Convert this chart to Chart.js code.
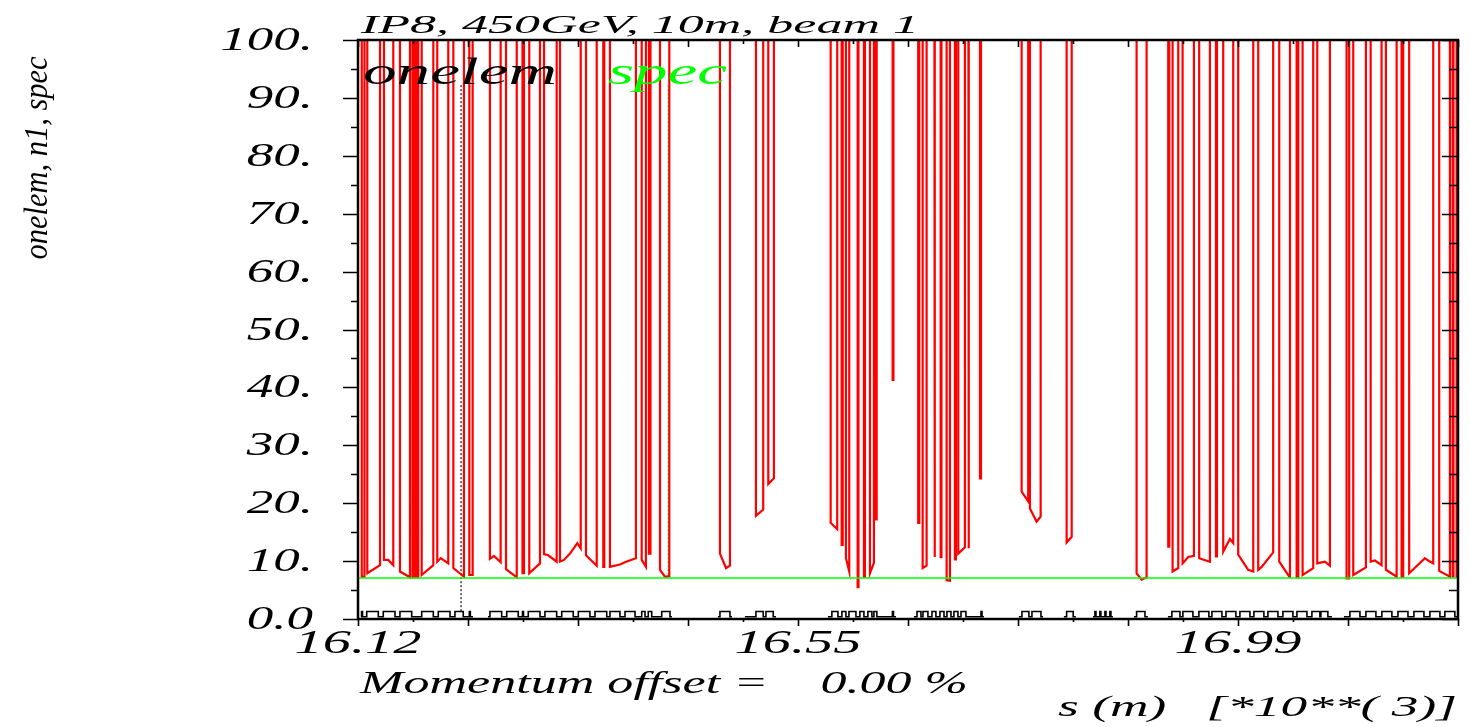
<!DOCTYPE html>
<html>
<head>
<meta charset="utf-8">
<title>IP8, 450GeV, 10m, beam 1</title>
<script src="https://cdn.jsdelivr.net/npm/chart.js@4.4.1/dist/chart.umd.min.js"></script>
<style>
  html, body { margin: 0; padding: 0; background: #fff; }
  #wrap { width: 1471px; height: 727px; }
</style>
</head>
<body>
<div id="wrap"><canvas id="apertureChart" width="1471" height="727"></canvas></div>
<script>
// aperture value used where onelem is far above the plotted range
const OFF = 150;

// s in metres, onelem (n1) values, one row per aperture dip
const sPos = [
    16121.7, 16121.7, 16124.4, 16124.4,
    16127.2, 16127.2, 16139.8, 16139.8,
    16143.7, 16143.7, 16148.0, 16152.9, 16152.9,
    16159.5, 16159.5, 16169.4, 16169.4,
    16171.9, 16171.9, 16173.4, 16173.4,
    16175.4, 16175.4, 16177.6, 16177.6,
    16181.0, 16181.0, 16192.5, 16192.5,
    16196.4, 16196.4, 16199.8, 16207.3, 16207.3,
    16212.3, 16212.3, 16222.8, 16222.8,
    16228.1, 16228.1, 16231.4, 16231.4,
    16248.5, 16248.5, 16252.5, 16259.1, 16259.1,
    16264.4, 16264.4, 16275.0, 16275.0,
    16280.7, 16280.7, 16282.2, 16282.2,
    16287.4, 16287.4, 16298.0, 16298.0,
    16302.0, 16302.0, 16306.2, 16314.5, 16314.5,
    16317.8, 16317.8, 16321.7, 16327.7, 16334.9, 16338.3, 16338.3,
    16343.5, 16343.5, 16354.1, 16354.1,
    16360.6, 16360.6, 16361.6, 16361.6,
    16367.2, 16367.2, 16377.1, 16383.1, 16392.9, 16392.9,
    16398.6, 16398.6, 16402.8, 16402.8,
    16405.8, 16405.8, 16407.3, 16407.3,
    16416.7, 16416.7, 16421.6, 16425.9, 16425.9,
    16476.0, 16476.0, 16482.0, 16485.9, 16485.9,
    16511.6, 16511.6, 16518.8, 16518.8,
    16523.8, 16523.8, 16529.4, 16529.4,
    16585.5, 16585.5, 16592.0, 16592.0,
    16596.4, 16596.4, 16597.4, 16597.4,
    16600.6, 16600.6, 16603.9, 16603.9,
    16612.2, 16612.2, 16613.0, 16613.0,
    16618.4, 16618.4, 16619.4, 16619.4,
    16624.4, 16624.4, 16628.3, 16628.3,
    16629.8, 16629.8, 16631.0, 16631.0,
    16646.8, 16646.8, 16647.6, 16647.6,
    16672.1, 16672.1, 16673.1, 16673.1,
    16676.5, 16676.5, 16680.4, 16680.4,
    16688.0, 16688.0, 16688.7, 16688.7,
    16694.3, 16694.3, 16695.1, 16695.1,
    16700.2, 16700.2, 16703.5, 16703.5,
    16708.4, 16708.4, 16709.4, 16709.4,
    16711.7, 16711.7, 16718.3, 16718.3,
    16721.6, 16721.6, 16722.3, 16722.3,
    16733.2, 16733.2, 16734.2, 16734.2,
    16774.4, 16774.4, 16780.9, 16780.9,
    16782.6, 16782.6, 16789.2, 16793.2, 16793.2,
    16818.9, 16818.9, 16823.9, 16823.9,
    16888.1, 16888.1, 16893.1, 16898.0, 16898.0,
    16919.4, 16919.4, 16920.4, 16920.4,
    16923.7, 16923.7, 16929.3, 16929.3,
    16933.6, 16933.6, 16939.2, 16944.8, 16944.8,
    16950.0, 16950.0, 16960.6, 16960.6,
    16966.6, 16966.6, 16967.6, 16967.6,
    16973.8, 16973.8, 16980.4, 16983.7, 16983.7,
    16988.6, 16988.6, 16998.5, 17003.5, 17003.5,
    17008.4, 17008.4, 17011.8, 17023.2, 17023.2,
    17029.2, 17029.2, 17039.1, 17039.8, 17039.8,
    17046.4, 17046.4, 17048.0, 17048.0,
    17052.3, 17052.3, 17062.8, 17062.8,
    17066.8, 17066.8, 17074.4, 17079.3, 17079.3,
    17095.8, 17095.8, 17098.4, 17098.4,
    17102.4, 17102.4, 17114.9, 17114.9,
    17119.6, 17119.6, 17123.8, 17130.4, 17130.4,
    17134.7, 17134.7, 17145.3, 17145.3,
    17150.2, 17150.2, 17151.8, 17151.8,
    17157.7, 17157.7, 17173.3, 17176.5, 17181.5, 17181.5,
    17187.4, 17187.4, 17198.0, 17198.0,
    17200.7, 17200.7, 17201.5, 17201.5,
    17204.6, 17204.6, 17207.9
];
const onelem = [
    OFF, 7.3, 7.3, OFF,
    OFF, 7.9, 9.3, OFF,
    OFF, 10.2, 10.2, 9.3, OFF,
    OFF, 8.2, 7.2, OFF,
    OFF, 7.2, 7.2, OFF,
    OFF, 7.2, 7.2, OFF,
    OFF, 7.6, 9.3, OFF,
    OFF, 9.9, 10.5, 9.6, OFF,
    OFF, 8.8, 7.3, OFF,
    OFF, 7.6, 7.6, OFF,
    OFF, 10.4, 10.9, 9.8, OFF,
    OFF, 8.6, 7.2, OFF,
    OFF, 7.9, 7.9, OFF,
    OFF, 7.9, 9.6, OFF,
    OFF, 11.2, 11.0, 9.9, OFF,
    OFF, 9.9, 10.2, 11.3, 13.1, 12.2, OFF,
    OFF, 11.0, 9.2, OFF,
    OFF, 9.0, 9.0, OFF,
    OFF, 9.0, 9.4, 9.9, 10.5, OFF,
    OFF, 10.2, 9.0, OFF,
    OFF, 11.3, 11.3, OFF,
    OFF, 8.5, 7.3, 7.4, OFF,
    OFF, 11.3, 8.8, 9.2, OFF,
    OFF, 17.8, 18.9, OFF,
    OFF, 23.3, 24.3, OFF,
    OFF, 16.6, 15.5, OFF,
    OFF, 12.8, 12.8, OFF,
    OFF, 10.5, 8.2, OFF,
    OFF, 5.5, 5.5, OFF,
    OFF, 7.3, 7.3, OFF,
    OFF, 7.9, 9.7, OFF,
    OFF, 17.2, 17.2, OFF,
    OFF, 41.3, 41.3, OFF,
    OFF, 16.6, 16.6, OFF,
    OFF, 8.8, 9.2, OFF,
    OFF, 10.7, 10.7, OFF,
    OFF, 10.7, 10.7, OFF,
    OFF, 6.7, 6.6, OFF,
    OFF, 10.3, 10.3, OFF,
    OFF, 11.3, 12.4, OFF,
    OFF, 12.2, 12.2, OFF,
    OFF, 24.3, 24.3, OFF,
    OFF, 22.0, 20.3, OFF,
    OFF, 19.1, 16.8, 17.7, OFF,
    OFF, 13.2, 14.2, OFF,
    OFF, 7.9, 6.8, 7.2, OFF,
    OFF, 12.5, 12.5, OFF,
    OFF, 8.2, 8.8, OFF,
    OFF, 9.6, 10.7, 10.9, OFF,
    OFF, 10.5, 9.9, OFF,
    OFF, 10.8, 10.8, OFF,
    OFF, 11.6, 13.8, 13.1, OFF,
    OFF, 11.1, 8.5, 8.2, OFF,
    OFF, 8.5, 9.0, 11.5, OFF,
    OFF, 9.9, 7.3, 7.3, OFF,
    OFF, 7.2, 7.2, OFF,
    OFF, 7.6, 8.8, OFF,
    OFF, 9.6, 9.9, 9.2, OFF,
    OFF, 7.0, 7.0, OFF,
    OFF, 7.6, 8.9, OFF,
    OFF, 9.9, 10.1, 9.3, OFF,
    OFF, 8.5, 7.3, OFF,
    OFF, 7.3, 7.3, OFF,
    OFF, 7.9, 10.5, 10.1, 9.6, OFF,
    OFF, 8.3, 7.3, OFF,
    OFF, 7.3, 7.3, OFF,
    OFF, 7.3, 7.3
];

// spec level (green) and the two dotted n1 markers
const specLevel = 7.1;
const markerPos = [16219.9, 16424.9];
const markerTop = [92.2, 92.2];
const markerBottom = [1.3, 7.1];
const markerColors = ['#222222', '#00dd00'];

// element line at the bottom: stretches of line and element boxes (metres)
const lineFrom = [16121.0, 16246.6, 16474.0, 16500.7, 16582.8, 16667.9, 16771.7, 16816.2, 16844.9, 16885.5, 16919.1, 17093.2];
const lineTo   = [16231.7, 16428.5, 16487.9, 16531.4, 16650.1, 16737.1, 16795.5, 16828.1, 16864.7, 16899.3, 17081.3, 17206.0];
const elemFrom = [
    16121.5, 16126.6, 16143.0, 16159.5, 16181.0, 16197.4, 16213.9, 16228.1,
    16248.5, 16265.1, 16280.7, 16286.4, 16302.9, 16319.5, 16335.9, 16352.4, 16367.2, 16382.1, 16398.6, 16405.1, 16418.4,
    16476.0, 16511.6, 16521.5,
    16586.7, 16596.6, 16603.6, 16614.4, 16622.3, 16628.3, 16646.6,
    16670.9, 16676.8, 16685.7, 16693.6, 16700.5, 16707.4, 16714.4, 16734.2,
    16774.7, 16784.6, 16818.9,
    16846.9, 16851.8, 16856.8, 16861.7, 16888.1,
    16923.0, 16933.9, 16949.7, 16962.6, 16976.5, 16990.3, 17004.1, 17018.0, 17032.8, 17046.7, 17061.5, 17070.4,
    17099.1, 17114.9, 17130.7, 17146.6, 17162.4, 17178.2, 17193.0
];
const elemTo = [
    16122.5, 16138.1, 16154.6, 16171.1, 16192.5, 16209.0, 16222.1, 16229.1,
    16260.1, 16276.5, 16281.7, 16298.0, 16314.5, 16330.9, 16347.4, 16364.0, 16377.1, 16392.0, 16401.9, 16408.5, 16426.6,
    16485.9, 16518.8, 16528.7,
    16592.7, 16600.6, 16610.5, 16618.4, 16626.3, 16631.2, 16647.6,
    16674.8, 16681.7, 16689.6, 16697.6, 16704.5, 16711.4, 16719.3, 16735.2,
    16781.6, 16793.5, 16825.4,
    16847.9, 16852.8, 16857.8, 16862.7, 16896.4,
    16931.0, 16943.8, 16959.6, 16972.5, 16986.3, 17000.2, 17014.0, 17027.9, 17042.7, 17056.6, 17069.4, 17077.3,
    17109.0, 17124.8, 17140.6, 17156.5, 17172.3, 17188.1, 17202.9
];
const elemBase = 0.4;
const elemTop = 1.3;

// axes
const sMin = 16118, sMax = 17206;
const xMajorTicks = [16118, 16226.8, 16335.6, 16444.4, 16553.2, 16662.0, 16770.8, 16879.6, 16988.4, 17097.2, 17206.0];
const xMinorTicks = [16172.4, 16281.2, 16390.0, 16498.8, 16607.6, 16716.4, 16825.2, 16934.0, 17042.8, 17151.6];
const xLabelTicks = [16118, 16553.2, 16988.4];
const xTickLabels = ['16.12', '16.55', '16.99'];
const yMajorTicks = [0, 10, 20, 30, 40, 50, 60, 70, 80, 90, 100];
const yTickLabels = ['0.0', '10.', '20.', '30.', '40.', '50.', '60.', '70.', '80.', '90.', '100.'];
const yMinorTicks = [5, 15, 25, 35, 45, 55, 65, 75, 85, 95];

// build chart data
const onelemData = sPos.map((s, i) => ({ x: s, y: onelem[i] }));
const specData = [{ x: sMin, y: specLevel }, { x: sMax, y: specLevel }];

const elemData = [];
lineFrom.forEach((from, c) => {
    elemData.push({ x: from, y: elemBase });
    elemFrom.forEach((a, i) => {
        if (a >= from && a < lineTo[c]) {
            elemData.push({ x: a, y: elemBase }, { x: a, y: elemTop },
                          { x: elemTo[i], y: elemTop }, { x: elemTo[i], y: elemBase });
        }
    });
    elemData.push({ x: lineTo[c], y: elemBase });
    elemData.push({ x: lineTo[c], y: null });
});

const markerSets = markerPos.map((s, i) => ({
    label: 'n1 marker ' + (i + 1),
    data: [{ x: s, y: markerTop[i] }, { x: s, y: markerBottom[i] }],
    borderColor: markerColors[i],
    borderWidth: 1.3,
    borderDash: [2, 2],
    order: 2
}));

const FONT = '"Liberation Serif", "DejaVu Serif", serif';

function wideText(ctx, text, x, y, size, sx, align, color) {
    ctx.save();
    ctx.font = 'italic ' + size + 'px ' + FONT;
    ctx.fillStyle = color || '#000';
    ctx.textBaseline = 'alphabetic';
    ctx.textAlign = 'left';
    const w = ctx.measureText(text).width * sx;
    let x0 = x;
    if (align === 'center') x0 = x - w / 2;
    if (align === 'right') x0 = x - w;
    ctx.translate(x0, y);
    ctx.scale(sx, 1);
    ctx.fillText(text, 0, 0);
    ctx.restore();
}

function fitText(ctx, text, x, y, size, width, color) {
    ctx.save();
    ctx.font = 'italic ' + size + 'px ' + FONT;
    const sx = width / ctx.measureText(text).width;
    ctx.restore();
    wideText(ctx, text, x, y, size, sx, 'left', color);
}

const madFrame = {
    id: 'madFrame',
    afterDatasetsDraw(chart) {
        const { ctx, chartArea: a, scales: { x, y } } = chart;
        ctx.save();
        ctx.strokeStyle = '#000';
        ctx.lineWidth = 2.5;
        ctx.strokeRect(a.left, a.top, a.right - a.left, a.bottom - a.top);

        ctx.lineWidth = 1.6;
        ctx.beginPath();
        yMajorTicks.forEach(v => {
            const py = Math.round(y.getPixelForValue(v)) + 0.5;
            ctx.moveTo(a.left - 15, py); ctx.lineTo(a.left, py);
            ctx.moveTo(a.right - 16, py); ctx.lineTo(a.right, py);
        });
        yMinorTicks.forEach(v => {
            const py = Math.round(y.getPixelForValue(v)) + 0.5;
            ctx.moveTo(a.left - 7, py); ctx.lineTo(a.left, py);
            ctx.moveTo(a.right - 9, py); ctx.lineTo(a.right, py);
        });
        xMajorTicks.forEach(v => {
            const px = Math.round(x.getPixelForValue(v)) + 0.5;
            ctx.moveTo(px, a.bottom); ctx.lineTo(px, a.bottom + 7);
            ctx.moveTo(px, a.top); ctx.lineTo(px, a.top + 7);
        });
        xMinorTicks.forEach(v => {
            const px = Math.round(x.getPixelForValue(v)) + 0.5;
            ctx.moveTo(px, a.bottom); ctx.lineTo(px, a.bottom + 3);
            ctx.moveTo(px, a.top); ctx.lineTo(px, a.top + 4);
        });
        ctx.stroke();
        ctx.restore();

        // tick labels
        yMajorTicks.forEach((v, i) => {
            wideText(ctx, yTickLabels[i], 313, y.getPixelForValue(v) + 10, 34, 1.56, 'right');
        });
        xLabelTicks.forEach((v, i) => {
            wideText(ctx, xTickLabels[i], x.getPixelForValue(v), 653, 34, 1.66, 'center');
        });

        // titles and legend words
        fitText(ctx, 'IP8, 450GeV, 10m, beam 1', 361, 33, 26, 558);
        fitText(ctx, 'onelem', 363, 84, 38, 194);
        fitText(ctx, 'spec', 608, 84, 38, 119, '#00ff00');
        fitText(ctx, 'Momentum offset =    0.00 %', 360, 693, 32, 608);
        fitText(ctx, 's (m)   [*10**( 3)]', 1058, 716, 30, 399);

        // rotated y-axis title
        ctx.save();
        ctx.translate(47, 158);
        ctx.rotate(-Math.PI / 2);
        ctx.font = 'italic 34px ' + FONT;
        const yt = 'onelem, n1, spec';
        const sx = 203 / ctx.measureText(yt).width;
        ctx.scale(sx, 1);
        ctx.fillStyle = '#000';
        ctx.textAlign = 'center';
        ctx.textBaseline = 'alphabetic';
        ctx.fillText(yt, 0, 0);
        ctx.restore();
    }
};

const chart = new Chart(document.getElementById('apertureChart'), {
    type: 'line',
    data: {
        datasets: [
            { label: 'spec', data: specData, borderColor: '#00ff00', borderWidth: 1.5, order: 0 },
            { label: 'onelem', data: onelemData, borderColor: '#ff0000', borderWidth: 2.2, order: 1, clip: 0 },
            ...markerSets,
            { label: 'elements', data: elemData, borderColor: '#000000', borderWidth: 1.6, spanGaps: false, order: 3 }
        ]
    },
    options: {
        responsive: false,
        animation: false,
        devicePixelRatio: 1,
        layout: { padding: { left: 358, right: 13, top: 40, bottom: 108 } },
        scales: {
            x: { type: 'linear', min: sMin, max: sMax, display: false },
            y: { type: 'linear', min: 0, max: 100, display: false }
        },
        elements: {
            point: { radius: 0, hoverRadius: 0 },
            line: { tension: 0, borderJoinStyle: 'miter' }
        },
        plugins: {
            legend: { display: false },
            tooltip: { enabled: false }
        }
    },
    plugins: [madFrame]
});
</script>
</body>
</html>
